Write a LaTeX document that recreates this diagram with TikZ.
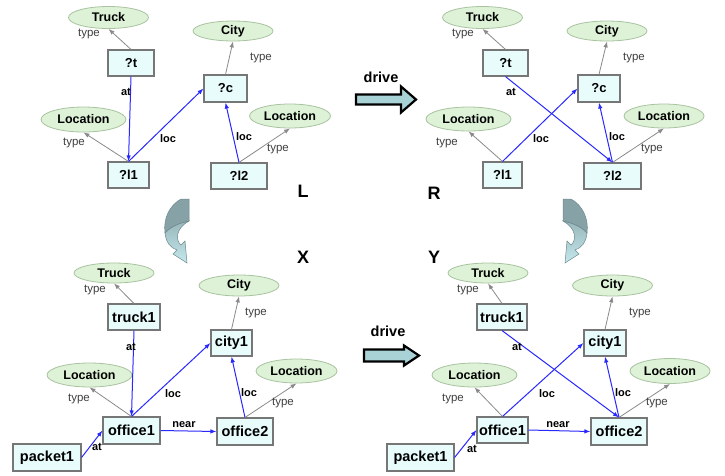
\documentclass[tikz,border=0pt]{standalone}
\usepackage{fontspec}
\setmainfont{Liberation Sans}
\usetikzlibrary{shapes.geometric,arrows.meta}
\definecolor{boxfill}{HTML}{E8FCFC}
\definecolor{boxline}{HTML}{767676}
\definecolor{ellfill}{HTML}{DDF2D6}
\definecolor{ellline}{HTML}{A9C3A1}
\definecolor{relblue}{HTML}{2828FF}
\definecolor{typegray}{HTML}{8A8A8A}
\definecolor{typetext}{HTML}{404040}
\definecolor{blockfill}{HTML}{A9D2D6}
\definecolor{curvetop}{HTML}{86A2A6}
\definecolor{curvebot}{HTML}{C4E8EC}
\definecolor{curveline}{HTML}{6E8A8E}

\tikzset{
  varbox/.style={draw=boxline, fill=boxfill, line width=1.1pt, inner sep=0pt,
    minimum height=26pt, font=\fontsize{13}{15}\selectfont\bfseries},
  objbox/.style={varbox, minimum height=27pt, font=\fontsize{14.5}{16}\selectfont\bfseries},
  cls/.style={ellipse, draw=ellline, fill=ellfill, line width=0.8pt, inner sep=0pt,
    minimum width=80pt, minimum height=22pt, font=\fontsize{12.5}{15}\selectfont\bfseries},
  typeedge/.style={draw=typegray, line width=0.8pt, -{Latex[length=6pt,width=4.5pt]}},
  reledge/.style={draw=relblue, line width=1pt, -{Latex[length=6pt,width=4.5pt]}},
  typelbl/.style={text=typetext, font=\fontsize{11.5}{13}\selectfont, inner sep=0pt},
  rellbl/.style={font=\fontsize{11}{13}\selectfont\bfseries, inner sep=0pt},
  biglbl/.style={font=\fontsize{18}{20}\selectfont\bfseries, inner sep=0pt},
  drivelbl/.style={font=\fontsize{14.5}{16}\selectfont\bfseries, inner sep=0pt},
  blockarrow/.style={draw=black, line width=2.2pt, fill=blockfill, line join=miter},
}

\begin{document}
\begin{tikzpicture}[x=1pt,y=-1pt]
\useasboundingbox (0,0) rectangle (725,475);
\fill[white] (0,0) rectangle (725,475);

% ---------- rule left-hand side L ----------
\node[cls] (tlTruck) at (108.5,17.5) {Truck};
\node[cls, minimum height=20pt] (tlCity) at (233,31) {City};
\node[cls, minimum width=85pt, minimum height=25pt] (tlLocA) at (83.5,119.5) {Location};
\node[cls, minimum width=81pt, minimum height=24pt] (tlLocB) at (290,116) {Location};
\node[varbox, minimum width=46pt] (tlT) at (131,63) {?t};
\node[varbox, minimum width=43pt, minimum height=27pt] (tlC) at (225.5,88.5) {?c};
\node[varbox, minimum width=41pt] (tlL1) at (128.5,175) {?l1};
\node[varbox, minimum width=56pt] (tlL2) at (239,176) {?l2};

\draw[typeedge] (tlT.north) -- (tlTruck.south);
\draw[typeedge] (tlC.north) -- (tlCity.south);
\draw[typeedge] (tlL1.north) -- (tlLocA.south);
\draw[typeedge] (tlL2.north) -- (tlLocB.south);
\draw[reledge] (tlT.south) -- (tlL1.north);
\draw[reledge] (tlL1.north) -- (tlC.west);
\draw[reledge] (tlL2.north) -- (tlC.south);

\node[typelbl] (tlTy1) at (89,34) {type};
\node[typelbl] (tlTy2) at (261,58) {type};
\node[typelbl] (tlTy3) at (74,143) {type};
\node[typelbl] (tlTy4) at (278,149) {type};
\node[rellbl] (tlAt) at (126,92) {at};
\node[rellbl] (tlLoc1) at (168,139) {loc};
\node[rellbl] (tlLoc2) at (244,137) {loc};
\node[biglbl] (lblL) at (303,191) {L};

% ---------- rule right-hand side R ----------
\node[cls] (trTruck) at (482.5,17.5) {Truck};
\node[cls, minimum height=20pt] (trCity) at (607,31) {City};
\node[cls, minimum width=85pt, minimum height=24pt] (trLocA) at (468.5,119) {Location};
\node[cls, minimum width=80pt, minimum height=24pt] (trLocB) at (664,116) {Location};
\node[varbox, minimum width=45pt] (trT) at (505.5,63) {?t};
\node[varbox, minimum width=42pt, minimum height=27pt] (trC) at (599,88.5) {?c};
\node[varbox, minimum width=39pt] (trL1) at (502.5,175) {?l1};
\node[varbox, minimum width=57pt] (trL2) at (612.5,176) {?l2};

\draw[typeedge] (trT.north) -- (trTruck.south);
\draw[typeedge] (trC.north) -- (trCity.south);
\draw[typeedge] (trL1.north) -- (trLocA.south);
\draw[typeedge] (trL2.north) -- (trLocB.south);
\draw[reledge] (trT.south) -- (trL2.north);
\draw[reledge] (trL1.north) -- (trC.west);
\draw[reledge] (trL2.north) -- (trC.south);

\node[typelbl] (trTy1) at (463,34) {type};
\node[typelbl] (trTy2) at (634,58) {type};
\node[typelbl] (trTy3) at (447,143) {type};
\node[typelbl] (trTy4) at (652,149) {type};
\node[rellbl] (trAt) at (511,92) {at};
\node[rellbl] (trLoc1) at (541,139) {loc};
\node[rellbl] (trLoc2) at (617,137) {loc};
\node[biglbl] (lblR) at (434,193) {R};

% ---------- state before the action X ----------
\node[cls, minimum height=20pt] (blTruck) at (114,273) {Truck};
\node[cls, minimum height=21pt] (blCity) at (239,285.5) {City};
\node[cls, minimum width=85pt, minimum height=24pt] (blLocA) at (89.5,375) {Location};
\node[cls, minimum width=81pt, minimum height=24pt] (blLocB) at (296.5,371) {Location};
\node[objbox, minimum width=52pt, minimum height=26pt] (blTruck1) at (134,317) {truck1};
\node[objbox, minimum width=41pt, minimum height=26pt] (blCity1) at (231.5,343) {city1};
\node[objbox, minimum width=57pt] (blOff1) at (131.5,430.5) {office1};
\node[objbox, minimum width=56pt] (blOff2) at (245,431.5) {office2};
\node[objbox, minimum width=68pt] (blPack) at (47,457.5) {packet1};

\draw[typeedge] (blTruck1.north) -- (blTruck.south);
\draw[typeedge] (blCity1.north) -- (blCity.south);
\draw[typeedge] (blOff1.north) -- (blLocA.south);
\draw[typeedge] (blOff2.north) -- (blLocB.south);
\draw[reledge] (blTruck1.south) -- (blOff1.north);
\draw[reledge] (blOff1.north) -- (blCity1.west);
\draw[reledge] (blOff2.north) -- (blCity1.south);
\draw[reledge] (blOff1.east) -- (blOff2.west);
\draw[reledge] (blPack.east) -- (blOff1.west);

\node[typelbl] (blTy1) at (95,290) {type};
\node[typelbl] (blTy2) at (256,313) {type};
\node[typelbl] (blTy3) at (79,399) {type};
\node[typelbl] (blTy4) at (283,403) {type};
\node[rellbl] (blAt) at (131,347) {at};
\node[rellbl] (blLoc1) at (173,394) {loc};
\node[rellbl] (blLoc2) at (249,393) {loc};
\node[rellbl] (blNear) at (184,425) {near};
\node[rellbl] (blAt2) at (97,447) {at};
\node[biglbl] (lblX) at (303,257) {X};

% ---------- state after the action Y ----------
\node[cls, minimum height=20pt] (brTruck) at (488,273) {Truck};
\node[cls, minimum height=21pt] (brCity) at (612.5,285.5) {City};
\node[cls, minimum width=85pt, minimum height=24pt] (brLocA) at (474.5,375) {Location};
\node[cls, minimum width=80pt, minimum height=25pt] (brLocB) at (670,371) {Location};
\node[objbox, minimum width=50pt, minimum height=26pt] (brTruck1) at (502,317) {truck1};
\node[objbox, minimum width=42pt, minimum height=26pt] (brCity1) at (605,343) {city1};
\node[objbox, minimum width=51pt, minimum height=26pt] (brOff1) at (502.5,430) {office1};
\node[objbox, minimum width=56pt] (brOff2) at (619,431.5) {office2};
\node[objbox, minimum width=67pt] (brPack) at (420.5,457.5) {packet1};

\draw[typeedge] (brTruck1.north) -- (brTruck.south);
\draw[typeedge] (brCity1.north) -- (brCity.south);
\draw[typeedge] (brOff1.north) -- (brLocA.south);
\draw[typeedge] (brOff2.north) -- (brLocB.south);
\draw[reledge] (brTruck1.south) -- (brOff2.north);
\draw[reledge] (brOff1.north) -- (brCity1.west);
\draw[reledge] (brOff2.north) -- (brCity1.south);
\draw[reledge] (brOff1.east) -- (brOff2.west);
\draw[reledge] (brPack.east) -- (brOff1.west);

\node[typelbl] (brTy1) at (468,290) {type};
\node[typelbl] (brTy2) at (640,313) {type};
\node[typelbl] (brTy3) at (453,399) {type};
\node[typelbl] (brTy4) at (657,403) {type};
\node[rellbl] (brAt) at (517,347) {at};
\node[rellbl] (brLoc1) at (547,394) {loc};
\node[rellbl] (brLoc2) at (623,393) {loc};
\node[rellbl] (brNear) at (558,425) {near};
\node[rellbl] (brAt2) at (472,449) {at};
\node[biglbl] (lblY) at (434,257) {Y};

% ---------- "drive" block arrows ----------
\node[drivelbl] (driveTop) at (381,77) {drive};
\draw[blockarrow] (356,94.5) -- (401,94.5) -- (401,86.5) -- (416,99.5)
  -- (401,112.5) -- (401,104.5) -- (356,104.5) -- cycle;
\node[drivelbl] (driveBot) at (388,331) {drive};
\draw[blockarrow] (364,349.5) -- (404,349.5) -- (404,345.5) -- (419,355.5)
  -- (404,365.5) -- (404,361.5) -- (364,361.5) -- cycle;

% ---------- curved matching arrows ----------
\foreach \sx/\sh in {1/0, -1/752} {
  \begin{scope}[xshift=\sh pt, xscale=\sx]
    % light lower band with the head
    \draw[draw=curveline, line width=0.5pt, top color=curvetop!70!curvebot, bottom color=curvebot]
      (165,233) .. controls (166,243) and (171,248) .. (177,250)
      -- (173,254) -- (187,263) -- (185,241) -- (181,245)
      .. controls (175,240) and (176,228) .. (189,221)
      .. controls (179,223) and (170,227) .. (165,233) -- cycle;
    % dark upper crescent
    \draw[draw=curveline, line width=0.5pt, fill=curvetop]
      (181,199) -- (189,199) -- (189,221)
      .. controls (179,223) and (170,227) .. (165,233)
      .. controls (163,218) and (170,205) .. (181,199) -- cycle;
  \end{scope}
}
\end{tikzpicture}
\end{document}
